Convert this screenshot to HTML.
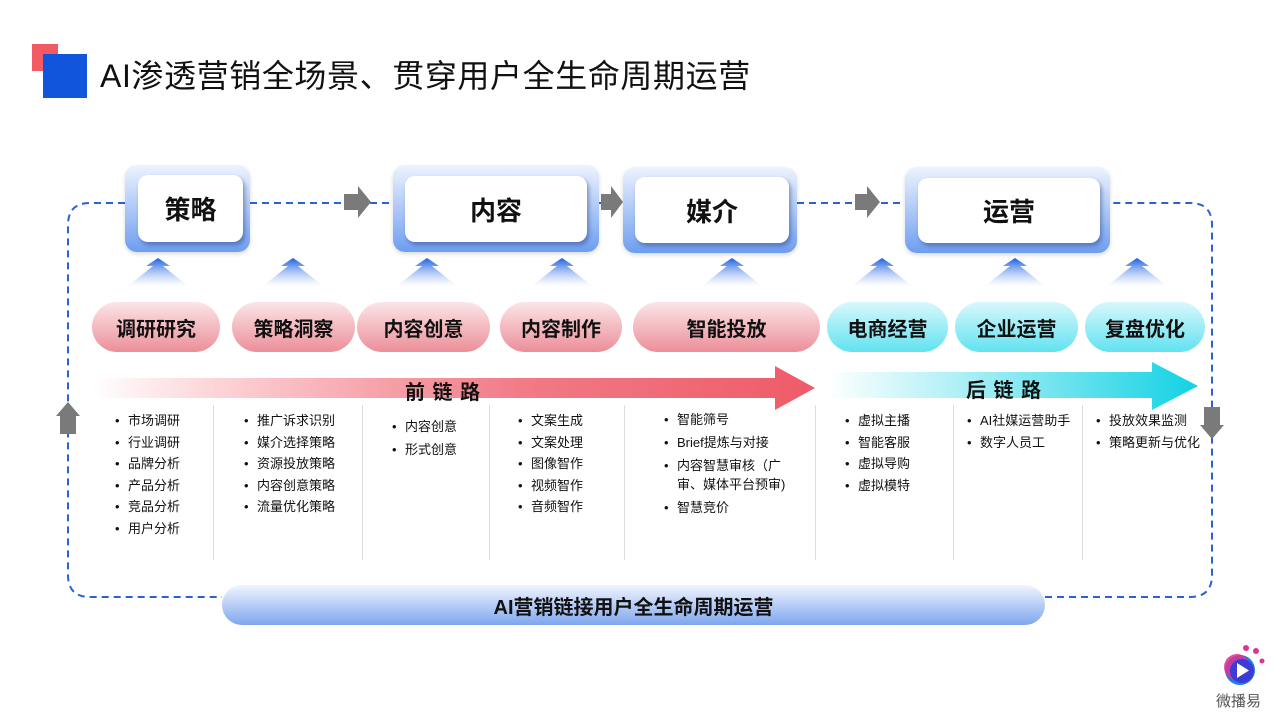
<!DOCTYPE html>
<html><head><meta charset="utf-8"><style>
*{margin:0;padding:0;box-sizing:border-box}
body{width:1280px;height:720px;background:#fff;position:relative;overflow:hidden;font-family:"Liberation Sans","Noto Sans CJK SC",sans-serif;color:#111}
.a{position:absolute}
.outer{position:absolute;border-radius:12px;background:linear-gradient(#eef3fe,#6e9ef0);box-shadow:0 2px 4px rgba(0,0,0,.15)}
.inner{position:absolute;border-radius:10px;background:#fff;box-shadow:2px 3px 4px rgba(40,60,120,.45);display:flex;align-items:center;justify-content:center;font-size:26px;font-weight:bold}
.pill{position:absolute;top:302px;height:50px;border-radius:25px;display:flex;align-items:center;justify-content:center;font-size:20px;font-weight:bold}
.pk{background:linear-gradient(#fbe6e8,#ec8e99)}
.cy{background:linear-gradient(#d8f8fc,#62e2f0)}
.col{position:absolute;top:410px;font-size:13px;line-height:21.5px;list-style:none}
.col li{padding-left:13px;position:relative}
.col li:before{content:"•";position:absolute;left:0}
.sep{position:absolute;top:405px;height:155px;border-left:1px solid #ddd}
</style></head><body>
<div class="a" style="left:32px;top:44px;width:26px;height:27px;background:#f25a64"></div>
<div class="a" style="left:43px;top:54px;width:44px;height:44px;background:#1155dd"></div>
<div class="a" style="left:100px;top:56px;font-size:32px;line-height:40px;letter-spacing:0.6px">AI渗透营销全场景、贯穿用户全生命周期运营</div>

<svg class="a" style="left:0;top:0" width="1280" height="720">
<g fill="none" stroke="#2a62d0" stroke-width="2" stroke-dasharray="7,5">
<path d="M125 203 H90 Q68 203 68 225 V575 Q68 597 90 597 H222"/>
<path d="M1045 597 H1190 Q1212 597 1212 575 V225 Q1212 203 1190 203 H1110"/>
<path d="M250 203 H393 M599 203 H623 M797 203 H905"/>
</g>
<g fill="#7a7a7a">
<path d="M344 194h14v-8l13 16-13 16v-8h-14z"/>
<path d="M601 194h10v-8l12 16-12 16v-8h-10z"/>
<path d="M855 194h12v-8l13 16-13 16v-8h-12z"/>
<path d="M60 434v-18h-4l12-14 12 14h-4v18z"/>
<path d="M1204 407v18h-4l12 14 12-14h-4v-18z"/>
</g>
<defs><linearGradient id="fr" x1="0" x2="1"><stop offset="0" stop-color="#f7646f" stop-opacity="0"/><stop offset=".6" stop-color="#f07a86"/><stop offset="1" stop-color="#ef5b68"/></linearGradient>
<linearGradient id="bk" x1="0" x2="1"><stop offset="0" stop-color="#20d4e6" stop-opacity="0"/><stop offset="1" stop-color="#12d2e4"/></linearGradient>
<linearGradient id="ua" x1="0" y1="0" x2="0" y2="1"><stop offset="0" stop-color="#1a5fe0"/><stop offset="1" stop-color="#8fb0f2" stop-opacity="0"/></linearGradient></defs>
<path d="M92 378H775V366L815 388 775 410V398H92z" fill="url(#fr)"/>
<path d="M827 372H1152V362L1198 386 1152 410V398H827z" fill="url(#bk)"/>
<g fill="url(#ua)">
<path id="u" d="M158 258l-12 8h7l-25 20h60l-25-20h7z"/>
<use href="#u" x="135"/><use href="#u" x="269"/><use href="#u" x="404"/><use href="#u" x="574"/><use href="#u" x="724"/><use href="#u" x="857"/><use href="#u" x="979"/>
</g>
</svg>

<div class="outer" style="left:125px;top:165px;width:125px;height:87px"></div>
<div class="inner" style="left:138px;top:175px;width:105px;height:67px">策略</div>
<div class="outer" style="left:393px;top:165px;width:206px;height:87px"></div>
<div class="inner" style="left:405px;top:176px;width:182px;height:66px">内容</div>
<div class="outer" style="left:623px;top:167px;width:174px;height:86px"></div>
<div class="inner" style="left:635px;top:177px;width:154px;height:66px">媒介</div>
<div class="outer" style="left:905px;top:167px;width:205px;height:86px"></div>
<div class="inner" style="left:918px;top:178px;width:182px;height:65px">运营</div>

<div class="pill pk" style="left:92px;width:128px">调研研究</div>
<div class="pill pk" style="left:232px;width:123px">策略洞察</div>
<div class="pill pk" style="left:357px;width:133px">内容创意</div>
<div class="pill pk" style="left:500px;width:122px">内容制作</div>
<div class="pill pk" style="left:633px;width:187px">智能投放</div>
<div class="pill cy" style="left:827px;width:121px">电商经营</div>
<div class="pill cy" style="left:955px;width:123px">企业运营</div>
<div class="pill cy" style="left:1085px;width:120px">复盘优化</div>

<div class="a" style="left:405px;top:376px;font-size:20px;font-weight:bold;letter-spacing:1px">前 链 路</div>
<div class="a" style="left:966px;top:374px;font-size:20px;font-weight:bold;letter-spacing:1px">后 链 路</div>

<div class="sep" style="left:213px"></div><div class="sep" style="left:362px"></div><div class="sep" style="left:489px"></div><div class="sep" style="left:624px"></div><div class="sep" style="left:815px"></div><div class="sep" style="left:953px"></div><div class="sep" style="left:1082px"></div>

<ul class="col" style="left:115px"><li>市场调研</li><li>行业调研</li><li>品牌分析</li><li>产品分析</li><li>竞品分析</li><li>用户分析</li></ul>
<ul class="col" style="left:244px"><li>推广诉求识别</li><li>媒介选择策略</li><li>资源投放策略</li><li>内容创意策略</li><li>流量优化策略</li></ul>
<ul class="col" style="left:392px;top:415px;line-height:23px"><li>内容创意</li><li>形式创意</li></ul>
<ul class="col" style="left:518px"><li>文案生成</li><li>文案处理</li><li>图像智作</li><li>视频智作</li><li>音频智作</li></ul>
<ul class="col" style="left:664px;line-height:19px"><li style="margin-bottom:4px">智能筛号</li><li style="margin-bottom:4px">Brief提炼与对接</li><li style="margin-bottom:4px">内容智慧审核（广<br>审、媒体平台预审)</li><li>智慧竞价</li></ul>
<ul class="col" style="left:845px"><li>虚拟主播</li><li>智能客服</li><li>虚拟导购</li><li>虚拟模特</li></ul>
<ul class="col" style="left:967px"><li>AI社媒运营助手</li><li>数字人员工</li></ul>
<ul class="col" style="left:1096px"><li>投放效果监测</li><li>策略更新与优化</li></ul>

<div class="a" style="left:222px;top:585px;width:823px;height:40px;border-radius:20px;background:linear-gradient(#f1f5fe,#7ea6ee);display:flex;align-items:center;justify-content:center;font-size:20px;font-weight:bold">AI营销链接用户全生命周期运营</div>

<svg class="a" style="left:1218px;top:640px" width="50" height="50">
<circle cx="22" cy="30" r="15" fill="#1e7cf0"/><circle cx="19" cy="27" r="13" fill="#e0338f" opacity=".85"/><circle cx="24" cy="31" r="12" fill="#3b3bd8"/>
<path d="M19 23v15l12-7.5z" fill="#fff"/>
<circle cx="28" cy="8" r="3" fill="#e0338f"/><circle cx="38" cy="11" r="3" fill="#e0338f"/><circle cx="44" cy="21" r="2.5" fill="#e0338f"/>
</svg>
<div class="a" style="left:1216px;top:690px;font-size:15px;color:#555">微播易</div>
</body></html>
